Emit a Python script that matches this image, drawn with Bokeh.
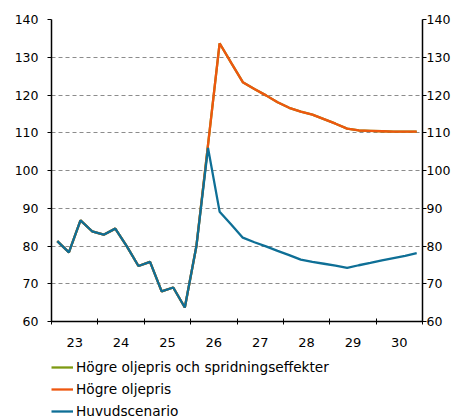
import numpy as np
from bokeh.plotting import figure
from bokeh.layouts import column
from bokeh.models import (LinearAxis, FixedTicker, Range1d, Legend, LegendItem)
from bokeh.embed import file_html
from bokeh.resources import INLINE

# Quarterly data 2023Q1 .. 2030Q4
first_year = 23
last_year = 30
huvudscenario = [81.3, 78.3, 86.8, 83.9, 83.0, 84.6, 79.9, 74.7,
                 75.8, 68.0, 69.0, 63.7, 80.0, 106.0, 89.1, 85.7,
                 82.2, 81.0, 79.9, 78.7, 77.6, 76.4, 75.8, 75.3,
                 74.8, 74.2, 74.9, 75.5, 76.2, 76.8, 77.4, 78.1]
hogre_oljepris = [81.3, 78.3, 86.8, 83.9, 83.0, 84.6, 79.9, 74.7,
                  75.8, 68.0, 69.0, 63.7, 80.0, 106.8, 133.7, 128.5,
                  123.4, 121.6, 119.9, 118.1, 116.6, 115.6, 114.8, 113.6,
                  112.4, 111.1, 110.6, 110.5, 110.4, 110.3, 110.3, 110.3]
hogre_oljepris_sprid = list(hogre_oljepris)
year_labels = ["23", "24", "25", "26", "27", "28", "29", "30"]
y_ticks = [60, 70, 80, 90, 100, 110, 120, 130, 140]
series_names = ["Högre oljepris och spridningseffekter", "Högre oljepris", "Huvudscenario"]

x = [first_year + (i + 0.5) / 4 for i in range(len(huvudscenario))]

FONT = "DejaVu Sans"
GREEN = "#7d9a12"
ORANGE = "#ee570f"
BLUE = "#0e6f96"
LW = 2.3

p = figure(width=462, height=352, output_backend="svg", toolbar_location=None,
           x_range=Range1d(first_year, last_year + 1), y_range=Range1d(60, 140),
           min_border_left=51, min_border_right=40, min_border_top=19,
           min_border_bottom=31, x_axis_location=None, y_axis_location=None)
p.outline_line_color = None
p.background_fill_color = "white"

p.line(x, hogre_oljepris_sprid, line_color=GREEN, line_width=LW)
p.line(x, hogre_oljepris, line_color=ORANGE, line_width=LW)
p.line(x, huvudscenario, line_color=BLUE, line_width=LW)

xticks = [first_year + 0.5 + k for k in range(len(year_labels))]
xaxis = LinearAxis(ticker=FixedTicker(ticks=xticks,
                                      minor_ticks=list(range(first_year, last_year + 2))),
                   major_label_overrides={t: lab for t, lab in zip(xticks, year_labels)})
xaxis.major_tick_in = 0
xaxis.major_tick_out = 0
xaxis.minor_tick_in = 3
xaxis.minor_tick_out = 3
xaxis.minor_tick_line_color = "black"
xaxis.axis_line_color = "black"
xaxis.axis_line_width = 1.5
xaxis.major_label_standoff = 13
xaxis.major_label_text_font = FONT
xaxis.major_label_text_font_size = "13px"
xaxis.major_label_text_color = "black"
p.add_layout(xaxis, "below")

for side in ("left", "right"):
    ax = LinearAxis(ticker=FixedTicker(ticks=y_ticks, minor_ticks=[]))
    ax.major_tick_in = 0
    ax.major_tick_out = 4
    ax.major_tick_line_color = "black"
    ax.axis_line_color = "black"
    ax.axis_line_width = 1.5
    ax.major_label_standoff = 9 if side == "left" else 0
    ax.major_label_text_font = FONT
    ax.major_label_text_font_size = "12.5px"
    ax.major_label_text_color = "black"
    p.add_layout(ax, side)

p.xgrid.visible = False
p.ygrid.ticker = FixedTicker(ticks=[70, 80, 90, 100, 110, 120, 130, 140])
p.ygrid.grid_line_color = "#8c8c8c"
p.ygrid.grid_line_dash = "4 3"
p.ygrid.grid_line_width = 1

# Legend figure below the chart (its frame aligns with the chart's frame)
lg = figure(width=462, height=67, output_backend="svg", toolbar_location=None,
            x_range=Range1d(0, 1), y_range=Range1d(0, 1),
            min_border=0, x_axis_location=None, y_axis_location=None)
lg.outline_line_color = None
lg.xgrid.visible = False
lg.ygrid.visible = False
r1 = lg.line([5, 6], [5, 6], line_color=GREEN, line_width=LW)
r2 = lg.line([5, 6], [5, 6], line_color=ORANGE, line_width=LW)
r3 = lg.line([5, 6], [5, 6], line_color=BLUE, line_width=LW)

legend = Legend(items=[
    LegendItem(label=series_names[0], renderers=[r1]),
    LegendItem(label=series_names[1], renderers=[r2]),
    LegendItem(label=series_names[2], renderers=[r3]),
], location=(0, -2), orientation="vertical")
legend.label_text_font = FONT
legend.label_text_font_size = "13.7px"
legend.label_text_color = "black"
legend.glyph_width = 22
legend.glyph_height = 20
legend.label_height = 20
legend.label_standoff = 3
legend.spacing = 2
legend.padding = 0
legend.margin = 0
legend.border_line_color = None
legend.background_fill_alpha = 0
lg.add_layout(legend, "center")

layout = column(p, lg, spacing=0)
open("out.html", "w").write(file_html(layout, INLINE))
